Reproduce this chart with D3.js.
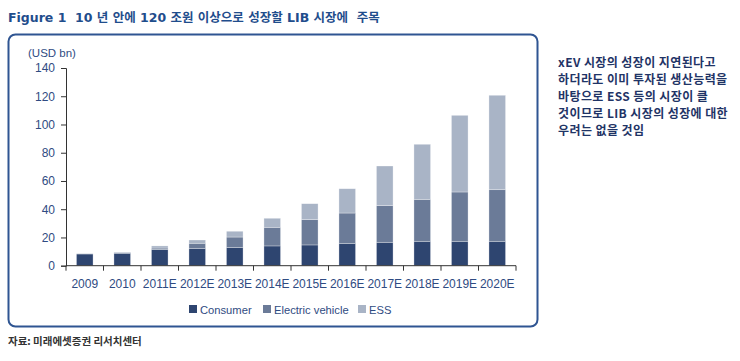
<!DOCTYPE html>
<html>
<head>
<meta charset="utf-8">
<script src="https://cdn.jsdelivr.net/npm/d3@7"></script>
<style>
  body { margin: 0; background: #fff; }
  svg text { font-family: "Noto Sans CJK KR", "Noto Sans", sans-serif; white-space: pre; }
  .lat { font-family: "Liberation Sans", Arial, sans-serif; }
</style>
</head>
<body>
<div id="chart"></div>
<script>
// chart data
var years = ["2009", "2010", "2011E", "2012E", "2013E", "2014E", "2015E", "2016E", "2017E", "2018E", "2019E", "2020E"];
var consumer = [8.3, 8.8, 11.5, 12.3, 12.8, 14.0, 14.7, 15.6, 16.6, 17.3, 17.3, 17.3];
var electricVehicle = [0.2, 0.5, 1.0, 3.6, 7.5, 13.2, 17.9, 21.7, 25.9, 29.7, 34.9, 36.5];
var ess = [0, 0.3, 1.5, 2.3, 4.1, 6.4, 11.3, 17.2, 28.1, 39.0, 54.3, 66.9];
var seriesNames = ["Consumer", "Electric vehicle", "ESS"];
var yTicks = [0, 20, 40, 60, 80, 100, 120, 140];
var noteLines = [
  "xEV 시장의 성장이 지연된다고",
  "하더라도 이미 투자된 생산능력을",
  "바탕으로 ESS 등의 시장이 클",
  "것이므로 LIB 시장의 성장에 대한",
  "우려는 없을 것임"
];

var width = 740, height = 361;
var margin = {top: 68, right: 224, bottom: 95, left: 66};
var colors = ["#2e4570", "#6b7b98", "#a9b4c6"];
var labelColor = "#2f4b82";

var rows = years.map(function(y, i) {
  return {year: y, Consumer: consumer[i], "Electric vehicle": electricVehicle[i], ESS: ess[i]};
});

var svg = d3.select("#chart").append("svg")
  .attr("width", width)
  .attr("height", height);

// title
svg.append("text")
  .attr("x", 8).attr("y", 22)
  .attr("font-size", 12.5).attr("font-weight", "bold")
  .attr("fill", "#1f4d8c")
  .style("font-family", "'DejaVu Sans', 'Noto Sans CJK KR', sans-serif")
  .text("Figure 1  10 년 안에 120 조원 이상으로 성장할 LIB 시장에  주목");

// frame
svg.append("rect")
  .attr("x", 8.5).attr("y", 34.5)
  .attr("width", 529).attr("height", 292)
  .attr("rx", 7).attr("ry", 7)
  .attr("fill", "none")
  .attr("stroke", "#2f5592")
  .attr("stroke-width", 2);

var xs = d3.scaleBand().domain(years).range([margin.left, width - margin.right]);

var y = d3.scaleLinear()
  .domain([0, 140])
  .range([height - margin.bottom - 0.3, margin.top]);

var stacked = d3.stack().keys(seriesNames)(rows);

svg.append("g").selectAll("g.layer")
  .data(stacked)
  .enter().append("g")
  .attr("class", "layer")
  .attr("fill", function(d, i) { return colors[i]; })
  .selectAll("rect")
  .data(function(d) { return d; })
  .enter().append("rect")
  .attr("x", function(d) { return xs(d.data.year) + xs.bandwidth() / 2 - 8.3; })
  .attr("width", 16.6)
  .attr("y", function(d) { return y(d[1]); })
  .attr("height", function(d) { return Math.max(0, y(d[0]) - y(d[1])); })
  .attr("stroke", "rgba(255,255,255,0.5)")
  .attr("stroke-width", 0.6);

// y axis
var yAxis = svg.append("g")
  .attr("transform", "translate(" + margin.left + ",0)")
  .call(d3.axisLeft(y).tickValues(yTicks).tickSize(5).tickPadding(6));
yAxis.select(".domain").attr("stroke", "#333");
yAxis.selectAll(".tick line").attr("stroke", "#333");
yAxis.selectAll("text")
  .attr("class", "lat")
  .attr("font-size", 12)
  .attr("fill", labelColor);

// x axis, ticks on category boundaries
var baseY = y(0);
var xg = svg.append("g");
xg.append("line")
  .attr("x1", margin.left).attr("x2", width - margin.right)
  .attr("y1", baseY).attr("y2", baseY)
  .attr("stroke", "#333");
xg.selectAll("line.tk")
  .data(d3.range(years.length + 1))
  .enter().append("line")
  .attr("class", "tk")
  .attr("x1", function(i) { return margin.left + i * xs.step(); })
  .attr("x2", function(i) { return margin.left + i * xs.step(); })
  .attr("y1", baseY).attr("y2", baseY + 5)
  .attr("stroke", "#333");
xg.selectAll("text")
  .data(years)
  .enter().append("text")
  .attr("class", "lat")
  .attr("x", function(d) { return xs(d) + xs.bandwidth() / 2; })
  .attr("y", baseY + 22)
  .attr("text-anchor", "middle")
  .attr("font-size", 12)
  .attr("fill", labelColor)
  .text(function(d) { return d; });

// unit label
svg.append("text")
  .attr("class", "lat")
  .attr("x", 28).attr("y", 57)
  .attr("font-size", 11.5)
  .attr("fill", labelColor)
  .text("(USD bn)");

// legend
var legendX = [189, 263, 358];
var li = svg.append("g").attr("transform", "translate(0,310)")
  .selectAll("g")
  .data(seriesNames)
  .enter().append("g")
  .attr("transform", function(d, i) { return "translate(" + legendX[i] + ",0)"; });
li.append("rect")
  .attr("x", 0).attr("y", -5)
  .attr("width", 8).attr("height", 8)
  .attr("fill", function(d, i) { return colors[i]; });
li.append("text")
  .attr("class", "lat")
  .attr("x", 11).attr("y", 3.5)
  .attr("font-size", 11.2)
  .attr("fill", labelColor)
  .text(function(d) { return d; });

// side note
svg.append("g")
  .selectAll("text")
  .data(noteLines)
  .enter().append("text")
  .attr("x", 558)
  .attr("y", function(d, i) { return 67 + i * 17; })
  .attr("font-size", 12)
  .attr("font-weight", "bold")
  .attr("letter-spacing", 0.4)
  .attr("fill", "#1f3466")
  .text(function(d) { return d; });

// source
svg.append("text")
  .attr("x", 8).attr("y", 345)
  .attr("font-size", 10.5)
  .attr("font-weight", "bold")
  .attr("fill", "#333")
  .text("자료: 미래에셋증권 리서치센터");
</script>
</body>
</html>
